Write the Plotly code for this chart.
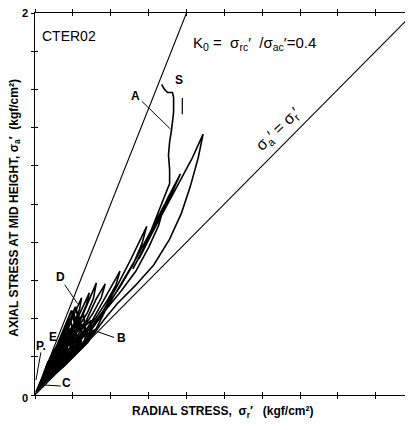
import plotly.graph_objects as go

# ---- data (kgf/cm2) ----
k0_value = 0.4
axis_max_x = 1.97
axis_max_y = 2.0
y_label_values = [0, 2]
y_label_texts = ["0", "2"]
y_tick_values = [0, 0.2, 0.4, 0.6, 0.8, 1.0, 1.2, 1.4, 1.6, 1.8, 2.0]
x_tick_values = [0, 0.2, 0.4, 0.6, 0.8, 1.0, 1.2, 1.4, 1.6, 1.8]

# stage 1: from S down through A
s_to_a_x = [0.669, 0.684, 0.700, 0.726, 0.732, 0.732, 0.721, 0.711, 0.705, 0.711, 0.711]
s_to_a_y = [1.626, 1.600, 1.584, 1.584, 1.558, 1.481, 1.387, 1.325, 1.257, 1.179, 1.107]

# stage 2: large cycles
large_x = [0.664, 0.601, 0.549, 0.611, 0.695, 0.768,
           0.705, 0.643, 0.580, 0.517, 0.590, 0.669, 0.763, 0.831, 0.888,
           0.862, 0.820, 0.773, 0.711, 0.627, 0.528, 0.434, 0.361, 0.308,
           0.371, 0.455, 0.538, 0.611, 0.684, 0.653, 0.601, 0.533, 0.455, 0.371, 0.287,
           0.361, 0.434, 0.507, 0.554, 0.590, 0.564, 0.517, 0.449, 0.376, 0.298, 0.235]
large_y = [0.987, 0.831, 0.712, 0.831, 0.997, 1.158,
           1.039, 0.909, 0.779, 0.660, 0.795, 0.940, 1.117, 1.242, 1.366,
           1.242, 1.091, 0.951, 0.816, 0.681, 0.571, 0.478, 0.390, 0.317,
           0.442, 0.582, 0.722, 0.857, 0.997, 0.888, 0.774, 0.649, 0.545, 0.442, 0.327,
           0.442, 0.571, 0.712, 0.805, 0.883, 0.790, 0.681, 0.566, 0.462, 0.358, 0.286]

# stage 3: smaller cycles
small_x = [0.308, 0.371, 0.423, 0.449, 0.428, 0.381, 0.319, 0.256, 0.193,
           0.266, 0.324, 0.371, 0.350, 0.308, 0.256, 0.183,
           0.235, 0.287, 0.324, 0.308, 0.277, 0.225, 0.152,
           0.214, 0.261, 0.287, 0.272, 0.240, 0.193, 0.131,
           0.183, 0.225, 0.246, 0.235, 0.209, 0.162, 0.104]
small_y = [0.400, 0.514, 0.608, 0.649, 0.577, 0.494, 0.400, 0.322, 0.260,
           0.379, 0.504, 0.582, 0.509, 0.431, 0.353, 0.260,
           0.379, 0.504, 0.587, 0.504, 0.431, 0.348, 0.234,
           0.379, 0.483, 0.535, 0.473, 0.400, 0.322, 0.208,
           0.369, 0.462, 0.509, 0.447, 0.379, 0.286, 0.171]

# stage 4: dense cycles near the origin
dense_x = [0.141, 0.214, 0.235, 0.183, 0.068,
           0.120, 0.256, 0.266, 0.193, 0.057,
           0.110, 0.193, 0.214, 0.152, 0.052,
           0.131, 0.298, 0.287, 0.183, 0.047,
           0.110, 0.235, 0.246, 0.162, 0.042,
           0.120, 0.329, 0.277, 0.152, 0.037,
           0.099, 0.183, 0.204, 0.131, 0.031,
           0.110, 0.277, 0.256, 0.131, 0.026,
           0.089, 0.214, 0.225, 0.110, 0.026,
           0.078, 0.152, 0.162, 0.089, 0.021,
           0.078, 0.246, 0.214, 0.078, 0.021,
           0.057, 0.131, 0.141, 0.068, 0.016,
           0.057, 0.183, 0.162, 0.057, 0.016,
           0.042, 0.099, 0.110, 0.047, 0.010,
           0.037, 0.068, 0.068, 0.026, 0.005]
dense_y = [0.286, 0.462, 0.379, 0.244, 0.099,
           0.260, 0.421, 0.348, 0.223, 0.088,
           0.244, 0.442, 0.358, 0.208, 0.078,
           0.260, 0.390, 0.317, 0.182, 0.068,
           0.234, 0.410, 0.327, 0.182, 0.062,
           0.234, 0.348, 0.275, 0.151, 0.057,
           0.223, 0.400, 0.327, 0.171, 0.052,
           0.208, 0.338, 0.265, 0.140, 0.047,
           0.192, 0.338, 0.286, 0.130, 0.042,
           0.182, 0.327, 0.255, 0.119, 0.042,
           0.156, 0.286, 0.223, 0.088, 0.036,
           0.140, 0.260, 0.208, 0.088, 0.031,
           0.119, 0.223, 0.171, 0.068, 0.026,
           0.099, 0.182, 0.151, 0.057, 0.021,
           0.078, 0.119, 0.088, 0.042, 0.016]

# stage 5: last dense cycles, ending at C
final_x = [0.089, 0.204, 0.225, 0.120, 0.047,
           0.099, 0.266, 0.256, 0.141, 0.037,
           0.089, 0.172, 0.193, 0.099, 0.031,
           0.110, 0.308, 0.266, 0.131, 0.026,
           0.078, 0.235, 0.225, 0.099, 0.021,
           0.068, 0.162, 0.172, 0.078, 0.016,
           0.078, 0.287, 0.235, 0.089, 0.016,
           0.057, 0.204, 0.183, 0.057, 0.010,
           0.047, 0.141, 0.131, 0.047, 0.010]
final_y = [0.156, 0.431, 0.348, 0.192, 0.073,
           0.234, 0.379, 0.307, 0.171, 0.062,
           0.208, 0.364, 0.296, 0.151, 0.052,
           0.223, 0.338, 0.275, 0.151, 0.047,
           0.182, 0.312, 0.255, 0.119, 0.042,
           0.171, 0.286, 0.234, 0.109, 0.036,
           0.151, 0.296, 0.234, 0.099, 0.031,
           0.130, 0.260, 0.203, 0.078, 0.026,
           0.109, 0.223, 0.171, 0.068, 0.021]

path_x = s_to_a_x + large_x + small_x
path_y = s_to_a_y + large_y + small_y
core_x = small_x[-1:] + dense_x + final_x
core_y = small_y[-1:] + dense_y + final_y

FONT = "Liberation Sans"

fig = go.Figure()

# reference lines on overlay axes (K0 line and isotropic line)
fig.add_trace(go.Scatter(x=[0, axis_max_y * k0_value], y=[0, axis_max_y], mode="lines",
                         line=dict(color="black", width=1.1), xaxis="x2", yaxis="y2",
                         hoverinfo="skip", showlegend=False))
fig.add_trace(go.Scatter(x=[0, axis_max_x], y=[0, axis_max_x], mode="lines",
                         line=dict(color="black", width=1.1), xaxis="x2", yaxis="y2",
                         hoverinfo="skip", showlegend=False))

fig.add_trace(go.Scatter(x=path_x, y=path_y, mode="lines",
                         line=dict(color="black", width=1.6), showlegend=False))
fig.add_trace(go.Scatter(x=core_x, y=core_y, mode="lines",
                         line=dict(color="black", width=2.0), showlegend=False))

axis_common = dict(showgrid=False, zeroline=False, showline=True, linecolor="black",
                   linewidth=1.3, ticklen=3, tickwidth=1, tickcolor="black", mirror="ticks")

fig.update_layout(
    width=405, height=422,
    margin=dict(l=27, r=1, t=2, b=35),
    paper_bgcolor="white", plot_bgcolor="white",
    font=dict(family=FONT, color="black"),
    xaxis=dict(range=[0, axis_max_x], tickvals=x_tick_values, showticklabels=False,
               ticks="outside", **axis_common),
    yaxis=dict(range=[0, axis_max_y], tickvals=y_tick_values, showticklabels=False,
               ticks="outside", **axis_common),
    xaxis2=dict(range=[0, axis_max_x], tickvals=x_tick_values, showticklabels=False,
                ticks="inside", overlaying="x", anchor="y2", **axis_common),
    yaxis2=dict(range=[0, axis_max_y], tickvals=y_tick_values, showticklabels=False,
                ticks="inside", overlaying="y", anchor="x2", **axis_common),
)

def txt(x, y, s, size=12, anchor="center", angle=0, bold=True, ref="data"):
    xr, yr = ("x", "y") if ref == "data" else ("paper", "paper")
    fig.add_annotation(x=x, y=y, xref=xr, yref=yr, text=s, showarrow=False,
                       xanchor=anchor, yanchor="middle", textangle=angle,
                       font=dict(size=size, family=FONT, color="black",
                                 weight="bold" if bold else "normal"))

def seg(x0, y0, x1, y1, w=1.0):
    fig.add_shape(type="line", x0=x0, y0=y0, x1=x1, y1=y1, xref="x", yref="y",
                  line=dict(color="black", width=w))

# y-axis value labels (only 0 and 2 are printed in the reference)
for v, t in zip(y_label_values, y_label_texts):
    fig.add_annotation(x=0, y=v, xref="paper", yref="y", text=t, showarrow=False,
                       xanchor="right", yanchor="middle", xshift=-5,
                       yshift=-3 if v == 0 else 0,
                       font=dict(size=11, family=FONT, color="black", weight="bold"))

txt(0.026, 1.881, "CTER02", size=14, anchor="left", bold=False)
txt(0.826, 1.839, "K<sub>0</sub> =  σ<sub>rc</sub>′  /σ<sub>ac</sub>′=0.4", size=15,
    anchor="left", bold=False)
txt(1.285, 1.392, "σ<sub>a</sub>′ = σ<sub>r</sub>′", size=16, angle=-44, bold=False)

txt(0.763, 1.647, "S", size=12)
txt(0.533, 1.564, "A", size=12)
seg(0.564, 1.538, 0.716, 1.392)
seg(0.778, 1.555, 0.778, 1.470, w=1.2)

txt(0.136, 0.618, "D", size=12)
seg(0.157, 0.577, 0.225, 0.478)
txt(0.094, 0.306, "E", size=12)
txt(0.030, 0.258, "P.", size=12)
seg(0.031, 0.223, 0.005, 0.078)
txt(0.167, 0.062, "C", size=12)
seg(0.052, 0.052, 0.136, 0.047)
txt(0.455, 0.296, "B", size=12)
seg(0.329, 0.332, 0.418, 0.301)

# axis titles
txt(-0.053, 0.491, "AXIAL STRESS AT MID HEIGHT, σ<sub>a</sub>′  (kgf/cm²)", size=12,
    angle=-90, ref="paper")
txt(0.504, -0.044, "RADIAL STRESS,  σ<sub>r</sub>′   (kgf/cm²)", size=12, ref="paper")

fig.write_html("out.html")
